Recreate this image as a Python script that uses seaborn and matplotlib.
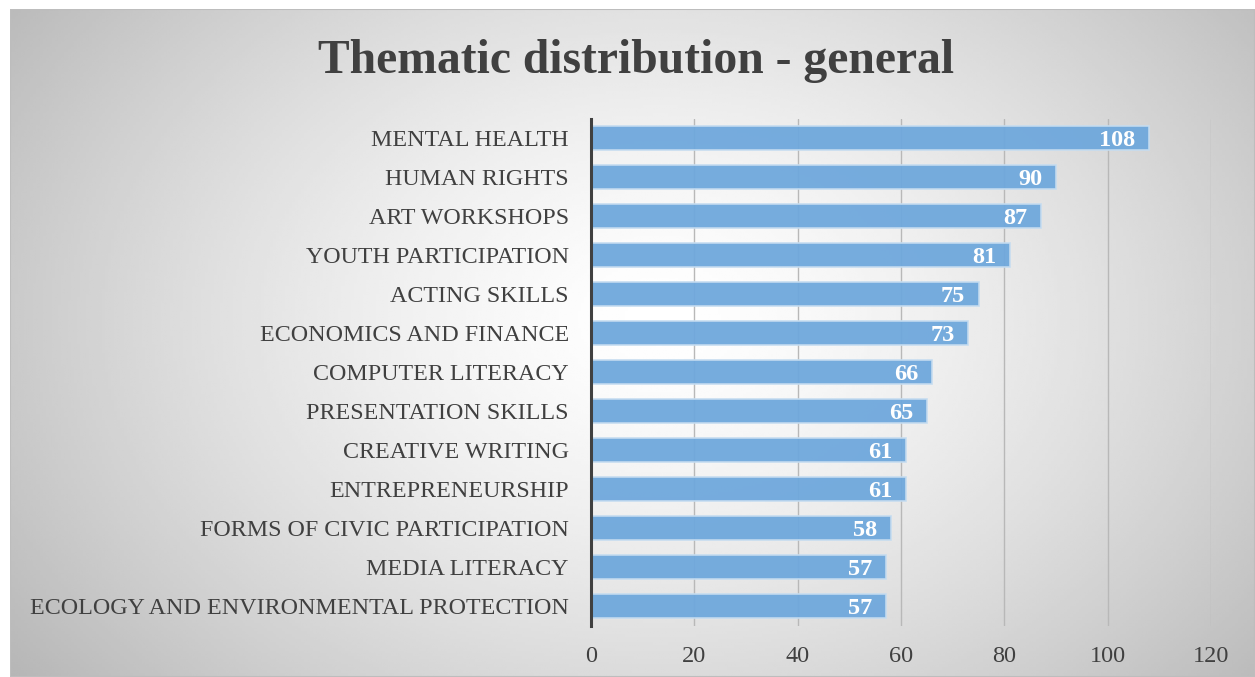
import numpy as np
import pandas as pd
import matplotlib
matplotlib.use("Agg")
import matplotlib.pyplot as plt
import seaborn as sns

# data
topics = ["MENTAL HEALTH", "HUMAN RIGHTS", "ART WORKSHOPS", "YOUTH PARTICIPATION",
          "ACTING SKILLS", "ECONOMICS AND FINANCE", "COMPUTER LITERACY",
          "PRESENTATION SKILLS", "CREATIVE WRITING", "ENTREPRENEURSHIP",
          "FORMS OF CIVIC PARTICIPATION", "MEDIA LITERACY",
          "ECOLOGY AND ENVIRONMENTAL PROTECTION"]
counts = [108, 90, 87, 81, 75, 73, 66, 65, 61, 61, 58, 57, 57]
xticks = [0, 20, 40, 60, 80, 100, 120]

df = pd.DataFrame({"topic": topics, "count": counts})

sns.set_style("white")
plt.rcParams["font.family"] = ["Liberation Serif", "DejaVu Serif"]

W, H = 1255, 677
fig = plt.figure(figsize=(W / 100, H / 100), dpi=100, facecolor="white")

# gradient background (light centre, grey edges)
bg = fig.add_axes([10 / W, 0, (W - 10) / W, (H - 9) / H], zorder=-5)
xx, yy = np.meshgrid(np.linspace(10, W, 400), np.linspace(9, H, 240))
r = np.sqrt(((xx - 660) / 720) ** 2 + ((yy - 320) / 520) ** 2)
shade = 1 - 0.24 * np.clip(r, 0, 1.2) ** 1.4
bg.imshow(shade, cmap="gray", vmin=0, vmax=1, aspect="auto",
          extent=[0, 1, 0, 1], interpolation="bilinear")
bg.set_xlim(0, 1)
bg.set_ylim(0, 1)
bg.axis("off")
bg.add_patch(plt.Rectangle((0, 0), 1, 1, transform=bg.transAxes, fill=False,
                           edgecolor="#bdbdbd", linewidth=1.5))

ax = fig.add_axes([591 / W, 1 - 625.5 / H, (1211 - 591) / W, (625.5 - 118.5) / H])
ax.patch.set_alpha(0)

sns.barplot(data=df, x="count", y="topic", orient="h", color="#6fa8dc",
            width=0.62, edgecolor="#c5dcf0", linewidth=1.2, alpha=0.95,
            saturation=1, ax=ax, zorder=3)

for i, v in enumerate(counts):
    ax.text(v - 2.6, i + 0.07, str(v), ha="right", va="center", color="white",
            fontsize=17.5, fontweight="bold", zorder=5)

ax.set_xlim(0, 120)
ax.set_xticks(xticks)
ax.set_xlabel("")
ax.set_ylabel("")
ax.grid(axis="x", color="#b8b8b8", linewidth=1, zorder=1)
ax.set_axisbelow(True)
for s in ["top", "right", "bottom"]:
    ax.spines[s].set_visible(False)
ax.spines["left"].set_color("#404040")
ax.spines["left"].set_linewidth(2.2)
ax.spines["left"].set_zorder(6)
ax.tick_params(axis="y", length=0, pad=16, labelsize=17.3, labelcolor="#404040")
ax.tick_params(axis="x", length=0, pad=15, labelsize=17.5, labelcolor="#404040")

fig.text(0.507, 1 - 61 / H, "Thematic distribution - general", ha="center",
         va="center", fontsize=34.3, fontweight="bold", color="#404040")

fig.savefig("out.png", dpi=100)
